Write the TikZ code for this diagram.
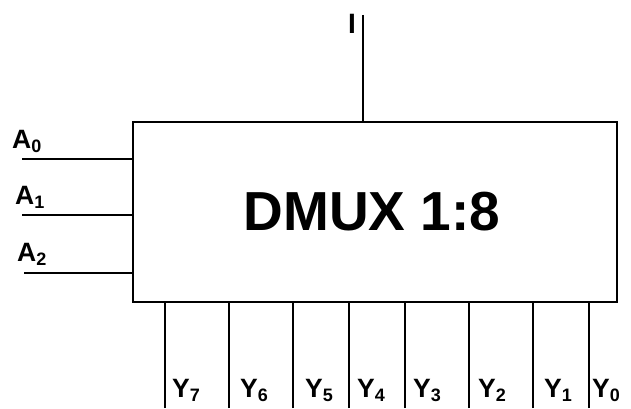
\documentclass[tikz,border=0pt]{standalone}
\usepackage{fontspec}
\setmainfont{Liberation Sans}
\newcommand{\mysub}[1]{\raisebox{-0.3ex}{\fontsize{18}{18}\selectfont #1}}
\begin{document}
\begin{tikzpicture}[x=1pt,y=1pt,
  wire/.style={line width=1.5pt},
  lbl/.style={inner sep=0pt,anchor=base west,font=\fontsize{26.5}{26.5}\selectfont\bfseries},
  blk/.style={draw,line width=1.8pt,minimum width=484pt,minimum height=180pt,inner sep=0pt}]
\useasboundingbox (0,0) rectangle (631,408);
\node[blk] (box) at (375,196) {};
\node[inner sep=0pt,font=\fontsize{55}{55}\selectfont\bfseries] (title) at (372,196) {DMUX 1:8};
% inputs
\coordinate (a0) at (22,249);
\coordinate (a1) at (22,193);
\coordinate (a2) at (24,135);
\draw[wire] (a0) -- (a0 -| box.west);
\draw[wire] (a1) -- (a1 -| box.west);
\draw[wire] (a2) -- (a2 -| box.west);
\node[lbl] (la0) at (12,260) {A\mysub{0}};
\node[lbl] (la1) at (15,204) {A\mysub{1}};
\node[lbl] (la2) at (17,147) {A\mysub{2}};
% top input
\coordinate (i) at (363,393);
\draw[wire] (i) -- (i |- box.north);
\node[lbl,font=\fontsize{28}{28}\selectfont\bfseries] (li) at (348,374) {I};
% outputs
\foreach \x/\lx/\n in {165/172/7,229/240/6,293/305/5,349/357/4,405/413/3,469/478/2,533/544/1,589/592/0}{
  \coordinate (y\n) at (\x,0);
  \draw[wire] (y\n) -- (y\n |- box.south);
  \node[lbl] (ly\n) at (\lx,11) {Y\mysub{\n}};
}
\end{tikzpicture}
\end{document}
